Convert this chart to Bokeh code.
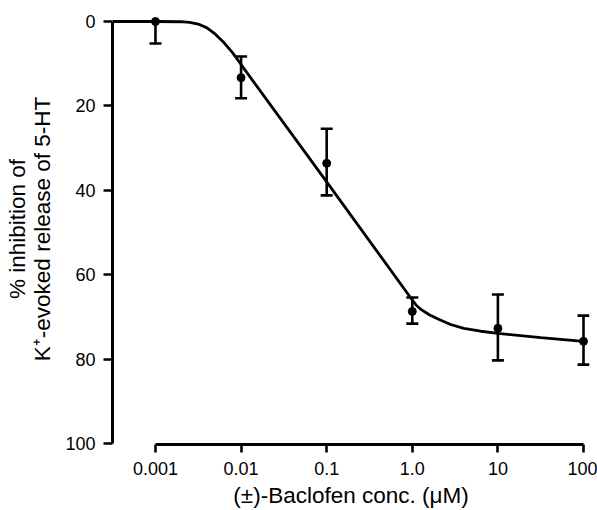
from bokeh.plotting import figure
from bokeh.models import Range1d, FixedTicker, Whisker, TeeHead, ColumnDataSource
from bokeh.embed import file_html
from bokeh.resources import INLINE

# ---- data ----
conc = [0.001, 0.01, 0.1, 1.0, 10, 100]
inhib = [0.0, 13.3, 33.6, 68.7, 72.7, 75.8]
bar_top = [0.0, 8.3, 25.4, 65.4, 64.7, 69.7]
bar_bottom = [5.2, 18.2, 41.2, 71.6, 80.3, 81.3]

curve_conc = [0.000315, 0.001, 0.002, 0.0025, 0.00316, 0.004, 0.005, 0.0063, 0.0079,
              0.01, 0.1, 1.0, 1.12, 1.26, 1.58, 2.0, 2.8, 4.0, 6.3, 10, 31.6, 100]
curve_inhib = [0.0, 0.0, 0.05, 0.2, 0.6, 1.5, 3.0, 5.0, 7.3,
               10.2, 38.0, 66.0, 67.3, 68.2, 69.5, 70.5, 71.8, 72.7, 73.4, 73.9, 74.9, 75.8]

x_ticks = [0.001, 0.01, 0.1, 1.0, 10, 100]
x_labels = ["0.001", "0.01", "0.1", "1.0", "10", "100"]
y_ticks = [0, 20, 40, 60, 80, 100]

FONT = "Liberation Sans"

p = figure(width=597, height=510, x_axis_type="log",
           x_range=Range1d(10 ** -3.502, 10 ** 2.07),
           y_range=Range1d(100.24, -1.9),
           output_backend="svg", toolbar_location=None,
           min_border_left=112, min_border_right=8,
           min_border_top=13, min_border_bottom=66)

p.outline_line_color = None
p.xgrid.visible = False
p.ygrid.visible = False
p.background_fill_color = "white"
p.border_fill_color = "white"

# curve
p.line(curve_conc, curve_inhib, line_color="black", line_width=2.8)

# error bars
src = ColumnDataSource(dict(x=conc, y=inhib, top=bar_top, bottom=bar_bottom))
w = Whisker(base="x", lower="top", upper="bottom", source=src, dimension="height",
            line_color="black", line_width=2.6,
            lower_head=TeeHead(size=12, line_width=2.6, line_color="black"),
            upper_head=TeeHead(size=12, line_width=2.6, line_color="black"))
p.add_layout(w)

p.scatter("x", "y", source=src, size=8, fill_color="black", line_color="black")

# axes
for ax in (p.xaxis[0], p.yaxis[0]):
    ax.axis_line_width = 3
    ax.axis_line_color = "black"
    ax.major_tick_line_width = 2.6
    ax.major_tick_line_color = "black"
    ax.major_tick_in = 0
    ax.minor_tick_in = 0
    ax.minor_tick_out = 0
    ax.major_label_text_font = FONT
    ax.major_label_text_color = "black"
    ax.axis_label_text_font = FONT
    ax.axis_label_text_font_style = "normal"
    ax.axis_label_text_color = "black"

xa = p.xaxis[0]
xa.ticker = FixedTicker(ticks=x_ticks, minor_ticks=[])
xa.major_label_overrides = {t: l for t, l in zip(x_ticks, x_labels)}
xa.bounds = (x_ticks[0], x_ticks[-1])
xa.major_tick_out = 8
xa.major_label_text_font_size = "18px"
xa.major_label_standoff = 9
xa.axis_label = "(\u00b1)-Baclofen conc. (\u03bcM)"
xa.axis_label_text_font_size = "22.5px"
xa.axis_label_text_line_height = 1.0
xa.axis_label_standoff = 5

ya = p.yaxis[0]
ya.ticker = FixedTicker(ticks=y_ticks, minor_ticks=[])
ya.bounds = (y_ticks[0], y_ticks[-1])
ya.major_tick_out = 9
ya.major_label_text_font_size = "18px"
ya.major_label_standoff = 8
ya.axis_label = "% inhibition of\nK\u207a-evoked release of 5-HT"
ya.axis_label_text_font_size = "22.5px"
ya.axis_label_text_line_height = 1.0
ya.axis_label_standoff = 7

open("out.html", "w").write(file_html(p, INLINE))
